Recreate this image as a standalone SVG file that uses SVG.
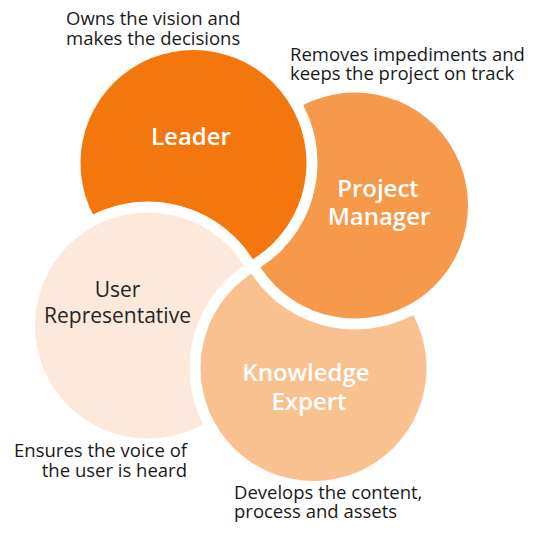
<svg xmlns="http://www.w3.org/2000/svg" xmlns:xlink="http://www.w3.org/1999/xlink" width="535" height="537" viewBox="0 0 535 537">
<style>
.c{stroke:#ffffff;stroke-width:22;paint-order:stroke}
.lbl{font-family:"Open Sans","DejaVu Sans",sans-serif;font-weight:600;font-size:24px;fill:#ffffff;text-anchor:middle}
.lbl-d{font-family:"Open Sans","DejaVu Sans",sans-serif;font-size:21px;fill:#262626;text-anchor:middle}
.note{font-family:"Open Sans","DejaVu Sans",sans-serif;font-size:18.5px;fill:#1a1a1a}
</style>
<defs>
<circle id="pmCircle" class="c" cx="355" cy="205.5" r="113" fill="#F6994A"/>
<mask id="keMask" maskUnits="userSpaceOnUse" x="0" y="0" width="535" height="537">
<circle cx="313.5" cy="368" r="129" fill="#ffffff"/>
<circle cx="193.5" cy="163" r="124" fill="#000000"/>
</mask>
</defs>
<rect width="535" height="537" fill="#ffffff"/>
<g id="project-manager">
<use xlink:href="#pmCircle"/>
<text class="lbl" x="378" y="197">Project</text>
<text class="lbl" x="379" y="225">Manager</text>
</g>
<g id="leader">
<circle class="c" cx="193.5" cy="163" r="113" fill="#F4770E"/>
<text class="lbl" x="191" y="145">Leader</text>
</g>
<g id="user-representative">
<circle class="c" cx="148" cy="325.5" r="113" fill="#FDE9DB"/>
<text class="lbl-d" x="117.5" y="297">User</text>
<text class="lbl-d" x="117.5" y="323">Representative</text>
</g>
<g id="knowledge-expert">
<circle class="c" cx="313.5" cy="368" r="113" fill="#F9C18F"/>
<text class="lbl" x="306" y="381">Knowledge</text>
<text class="lbl" x="309" y="410">Expert</text>
</g>
<g id="project-manager-overlap" mask="url(#keMask)">
<use xlink:href="#pmCircle"/>
</g>
<g id="connectors"></g>
<g id="notes">
<text class="note" x="66" y="25">Owns the vision and</text>
<text class="note" x="66" y="45">makes the decisions</text>
<text class="note" x="290" y="61">Removes impediments and</text>
<text class="note" x="290" y="80">keeps the project on track</text>
<text class="note" x="187" y="457" text-anchor="end">Ensures the voice of</text>
<text class="note" x="187" y="477" text-anchor="end">the user is heard</text>
<text class="note" x="234" y="499">Develops the content,</text>
<text class="note" x="234" y="518">process and assets</text>
</g>
</svg>
